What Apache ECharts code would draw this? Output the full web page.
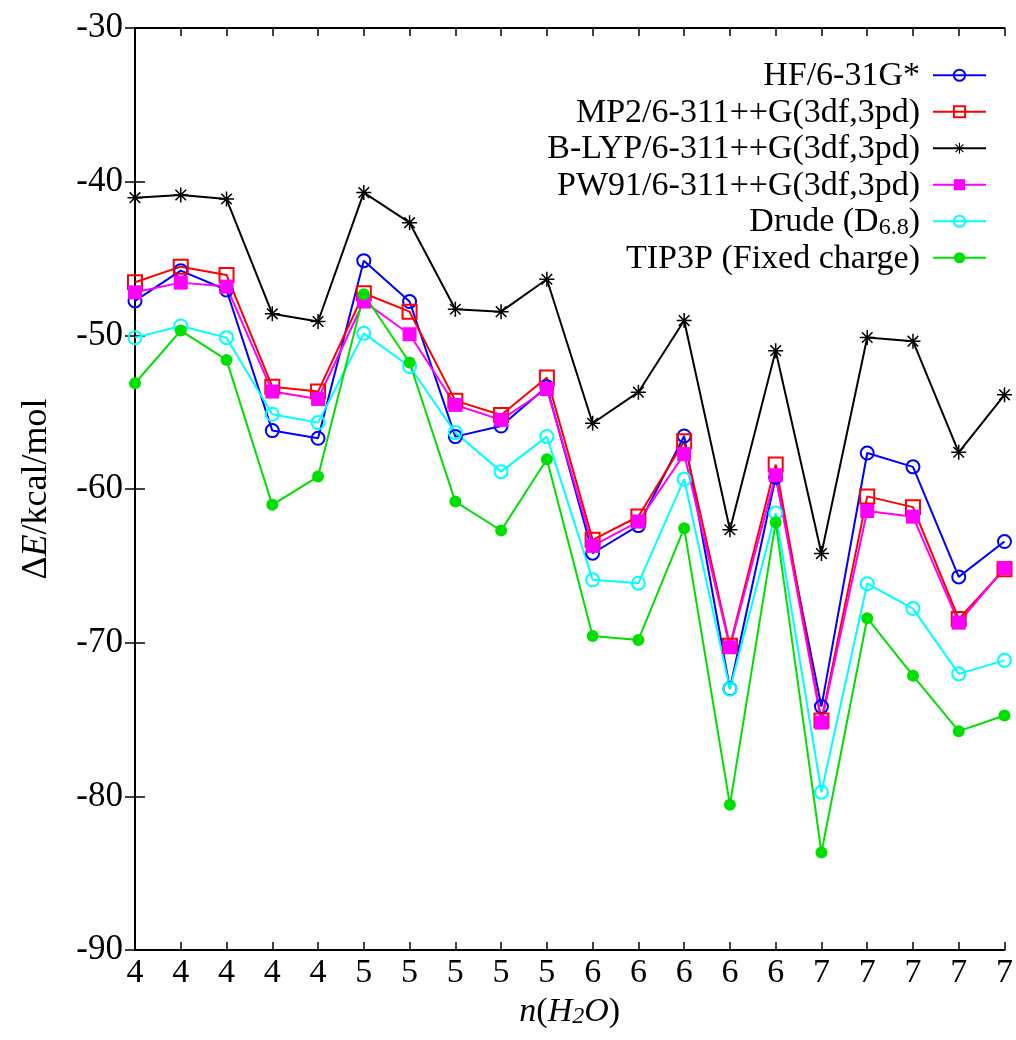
<!DOCTYPE html>
<html>
<head>
<meta charset="utf-8">
<script src="https://cdn.jsdelivr.net/npm/echarts@6/dist/echarts.min.js"></script>
<style>
html,body{margin:0;padding:0;background:#fff;}
#chart{width:1016px;height:1040px;}
</style>
</head>
<body>
<div id="chart"></div>
<script>
const nLabels = ['4','4','4','4','4','5','5','5','5','5','6','6','6','6','6','7','7','7','7','7'];
const hf    = [-47.76,-45.79,-47.05,-56.2,-56.7,-45.14,-47.8,-56.59,-55.9,-53.34,-64.18,-62.38,-56.55,-73.0,-59.23,-74.16,-57.66,-58.56,-65.72,-63.42];
const mp2   = [-46.55,-45.53,-46.07,-53.34,-53.66,-47.26,-48.46,-54.25,-55.18,-52.75,-63.31,-61.79,-56.9,-70.2,-58.41,-75.06,-60.48,-61.18,-68.46,-65.22];
const blyp  = [-41.04,-40.87,-41.13,-48.6,-49.1,-40.71,-42.67,-48.3,-48.46,-46.35,-55.72,-53.7,-49.04,-62.65,-51.0,-64.2,-50.14,-50.38,-57.61,-53.87];
const pw91  = [-47.2,-46.57,-46.83,-53.66,-54.14,-47.8,-49.93,-54.53,-55.5,-53.49,-63.7,-62.12,-57.74,-70.3,-59.1,-75.2,-61.43,-61.8,-68.7,-65.14];
const drude = [-50.15,-49.39,-50.15,-55.14,-55.68,-49.87,-52.03,-56.33,-58.87,-56.59,-65.91,-66.13,-59.36,-73.02,-61.56,-79.73,-66.16,-67.78,-72.03,-71.15];
const tip3p = [-53.12,-49.69,-51.6,-61.03,-59.19,-47.33,-51.77,-60.82,-62.7,-58.06,-69.56,-69.82,-62.55,-80.55,-62.17,-83.66,-68.41,-72.15,-75.76,-74.74];
const seriesNames = ['HF/6-31G*','MP2/6-311++G(3df,3pd)','B-LYP/6-311++G(3df,3pd)','PW91/6-311++G(3df,3pd)','Drude (D6.8)','TIP3P (Fixed charge)'];

const FONT = 'Liberation Serif';
const toPts = arr => arr.map((v, i) => [i, v]);
const star = 'path://M9,0L11,0L11,20L9,20Z' +
  'M0,9L20,9L20,11L0,11Z' +
  'M2.22,3.64L3.64,2.22L17.78,16.36L16.36,17.78Z' +
  'M2.22,16.36L16.36,2.22L17.78,3.64L3.64,17.78Z';

function mk(name, data, color, symbol, filled, size) {
  return {
    name: name, type: 'line', data: toPts(data),
    symbol: symbol, symbolSize: size, symbolKeepAspect: true,
    lineStyle: {color: color, width: 2},
    itemStyle: {color: filled ? color : 'rgba(0,0,0,0)', borderColor: color, borderWidth: filled ? 0 : 2},
    emphasis: {disabled: true},
    animation: false, z: 2
  };
}

const chart = echarts.init(document.getElementById('chart'), null, {renderer: 'canvas'});
const axisCommon = {
  axisLine: {show: true, lineStyle: {color: '#000', width: 2}},
  splitLine: {show: false}
};
chart.setOption({
  backgroundColor: '#fff',
  animation: false,
  grid: {left: 135, right: 10, top: 28, bottom: 90, containLabel: false},
  legend: {
    orient: 'vertical', right: 24, top: 52, align: 'right',
    itemWidth: 53, itemHeight: 14, itemGap: 0,
    selectedMode: false,
    data: seriesNames,
    formatter: function (n) {
      if (n === 'Drude (D6.8)') return '{t|Drude (D}{s|6.8}{t|)}';
      return '{t|' + n + '}';
    },
    textStyle: {
      fontFamily: FONT, fontSize: 34, color: '#000', lineHeight: 36.5,
      padding: [0, 8, 0, 0],
      rich: {
        t: {fontFamily: FONT, fontSize: 34, color: '#000', lineHeight: 36.5, verticalAlign: 'bottom'},
        s: {fontFamily: FONT, fontSize: 24, color: '#000', lineHeight: 30, verticalAlign: 'bottom'}
      }
    }
  },
  xAxis: [{
    type: 'value', min: 0, max: 19, interval: 1, position: 'bottom',
    ...axisCommon,
    axisTick: {show: true, inside: true, length: 8, lineStyle: {color: '#000', width: 1.5}},
    axisLabel: {fontFamily: FONT, fontSize: 34, color: '#000', margin: 6,
      formatter: v => nLabels[v] !== undefined ? nLabels[v] : ''},
    name: '{i|n}{n|(}{i|H}{s|2}{i|O}{n|)}',
    nameLocation: 'middle', nameGap: 38,
    nameTextStyle: {
      fontFamily: FONT, fontSize: 34, color: '#000',
      rich: {
        i: {fontFamily: FONT, fontSize: 34, fontStyle: 'italic', color: '#000', verticalAlign: 'bottom', lineHeight: 40},
        n: {fontFamily: FONT, fontSize: 34, color: '#000', verticalAlign: 'bottom', lineHeight: 40},
        s: {fontFamily: FONT, fontSize: 24, fontStyle: 'italic', color: '#000', verticalAlign: 'bottom', lineHeight: 32}
      }
    }
  }, {
    type: 'value', min: 0, max: 19, interval: 1, position: 'top',
    ...axisCommon,
    axisTick: {show: true, inside: true, length: 8, lineStyle: {color: '#000', width: 1.5}},
    axisLabel: {show: false}
  }],
  yAxis: [{
    type: 'value', min: -90, max: -30, interval: 10, position: 'left',
    ...axisCommon,
    axisTick: {show: true, inside: true, length: 10, lineStyle: {color: '#000', width: 1.5}},
    axisLabel: {fontFamily: FONT, fontSize: 35, color: '#000', margin: 12},
    name: '{n|Δ}{i|E}{n|/kcal/mol}',
    nameLocation: 'middle', nameGap: 80, nameRotate: 90,
    nameTextStyle: {
      fontFamily: FONT, fontSize: 36, color: '#000',
      rich: {
        i: {fontFamily: FONT, fontSize: 36, fontStyle: 'italic', color: '#000'},
        n: {fontFamily: FONT, fontSize: 36, color: '#000'}
      }
    }
  }, {
    type: 'value', min: -90, max: -30, interval: 10, position: 'right',
    ...axisCommon,
    axisTick: {show: true, inside: true, length: 10, lineStyle: {color: '#000', width: 1.5}},
    axisLabel: {show: false}
  }],
  series: [
    mk(seriesNames[0], hf, '#0000ff', 'circle', false, 13),
    mk(seriesNames[1], mp2, '#ff0000', 'rect', false, 14),
    mk(seriesNames[2], blyp, '#000000', star, true, 15),
    mk(seriesNames[3], pw91, '#ff00ff', 'rect', true, 14),
    mk(seriesNames[4], drude, '#00ffff', 'circle', false, 13),
    mk(seriesNames[5], tip3p, '#00e000', 'circle', true, 12)
  ]
});
</script>
</body>
</html>
